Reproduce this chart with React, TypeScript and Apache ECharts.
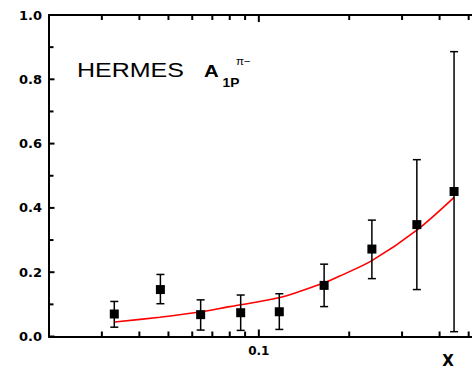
import React, { useEffect, useRef } from "react";
import * as echarts from "echarts";

const xValues = [0.033, 0.047, 0.064, 0.087, 0.117, 0.165, 0.238, 0.336, 0.447];
const yValues = [0.07, 0.146, 0.068, 0.074, 0.077, 0.159, 0.272, 0.348, 0.451];
const yLow = [0.029, 0.102, 0.02, 0.019, 0.022, 0.093, 0.18, 0.146, 0.015];
const yHigh = [0.109, 0.193, 0.114, 0.129, 0.133, 0.225, 0.362, 0.55, 0.886];

const curveX = [0.0331, 0.0468, 0.0636, 0.08, 0.1175, 0.165, 0.186, 0.238, 0.336, 0.447];
const curveY = [0.045, 0.06, 0.076, 0.093, 0.121, 0.167, 0.188, 0.236, 0.331, 0.433];

const xMinorTicks = [0.03, 0.04, 0.05, 0.06, 0.07, 0.08, 0.09, 0.2, 0.3, 0.4, 0.5];
const xMajorTicks = [0.1];
const xTickLabels = ["0.1"];
const yMajorTicks = [0, 0.2, 0.4, 0.6, 0.8, 1.0];
const yMinorTicks = [0.1, 0.3, 0.5, 0.7, 0.9];

const X_MIN = 0.02;
const X_MAX = 0.55;
const Y_MIN = 0;
const Y_MAX = 1;

export default function App() {
  const ref = useRef<HTMLDivElement>(null);

  useEffect(() => {
    if (!ref.current) return;
    const chart = echarts.init(ref.current, null, { renderer: "svg" });

    const tickScatter = (data: number[][], size: number[], offset: number[]) => ({
      type: "scatter",
      data,
      symbol: "rect",
      symbolSize: size,
      symbolOffset: offset,
      clip: false,
      silent: true,
      itemStyle: { color: "#000", opacity: 1 },
      z: 6,
    });

    const option: any = {
      animation: false,
      backgroundColor: "#ffffff",
      grid: {
        left: 49,
        top: 15,
        bottom: 36.5,
        right: -9.1,
        containLabel: false,
        outerBoundsMode: "none",
      },
      xAxis: [
        {
          type: "log",
          logBase: 10,
          min: X_MIN,
          max: X_MAX,
          position: "bottom",
          axisLine: { show: true, onZero: false, lineStyle: { color: "#000", width: 2 } },
          axisTick: { show: false },
          minorTick: { show: false },
          splitLine: { show: false },
          axisLabel: {
            show: true,
            showMinLabel: false,
            showMaxLabel: false,
            margin: 8,
            color: "#000",
            fontFamily: "DejaVu Sans",
            fontWeight: "bold",
            fontSize: 12,
            formatter: (v: number) => {
              const i = xMajorTicks.findIndex((t) => Math.abs(t - v) < 1e-6);
              return i >= 0 ? xTickLabels[i] : "";
            },
          },
          name: "X",
          nameLocation: "end",
          nameGap: 0,
          nameTextStyle: {
            color: "#000",
            fontFamily: "DejaVu Sans",
            fontWeight: "bold",
            fontSize: 15,
            align: "center",
            verticalAlign: "top",
            padding: [17, 0, 0, -66],
          },
        },
        {
          type: "log",
          logBase: 10,
          min: X_MIN,
          max: X_MAX,
          position: "top",
          axisLine: { show: true, onZero: false, lineStyle: { color: "#000", width: 2 } },
          axisTick: { show: false },
          axisLabel: { show: false },
          splitLine: { show: false },
        },
      ],
      yAxis: {
        type: "value",
        min: Y_MIN,
        max: Y_MAX,
        interval: 0.2,
        axisLine: { show: true, onZero: false, lineStyle: { color: "#000", width: 2 } },
        axisTick: { show: false },
        minorTick: { show: false },
        splitLine: { show: false },
        axisLabel: {
          margin: 7,
          color: "#000",
          fontFamily: "DejaVu Sans",
          fontWeight: "bold",
          fontSize: 13,
          formatter: (v: number) => v.toFixed(1),
        },
      },
      series: [
        tickScatter(xMinorTicks.map((v) => [v, Y_MIN]), [2, 5], [0, -2.5]),
        tickScatter(xMinorTicks.map((v) => [v, Y_MAX]), [2, 5], [0, 2.5]),
        tickScatter(xMajorTicks.map((v) => [v, Y_MIN]), [2, 7], [0, -3.5]),
        tickScatter(xMajorTicks.map((v) => [v, Y_MAX]), [2, 7], [0, 3.5]),
        tickScatter(yMinorTicks.map((v) => [X_MIN, v]), [4.5, 2], [2.25, 0]),
        tickScatter(yMajorTicks.map((v) => [X_MIN, v]), [5.5, 2], [2.75, 0]),
        {
          type: "line",
          name: "fit",
          data: curveX.map((x, i) => [x, curveY[i]]),
          smooth: 0.3,
          showSymbol: false,
          symbol: "none",
          lineStyle: { color: "#ff0000", width: 1.6 },
          z: 3,
        },
        {
          type: "custom",
          name: "errors",
          clip: false,
          data: xValues.map((x, i) => [x, yLow[i], yHigh[i]]),
          renderItem: (params: any, api: any) => {
            const x = api.value(0);
            const lo = api.coord([x, api.value(1)]);
            const hi = api.coord([x, api.value(2)]);
            const cap = 4;
            const st = { stroke: "#000", lineWidth: 1.5 };
            return {
              type: "group",
              children: [
                { type: "line", shape: { x1: lo[0], y1: lo[1], x2: hi[0], y2: hi[1] }, style: st },
                { type: "line", shape: { x1: lo[0] - cap, y1: lo[1], x2: lo[0] + cap, y2: lo[1] }, style: st },
                { type: "line", shape: { x1: hi[0] - cap, y1: hi[1], x2: hi[0] + cap, y2: hi[1] }, style: st },
              ],
            };
          },
          z: 4,
        },
        {
          type: "scatter",
          name: "HERMES",
          data: xValues.map((x, i) => [x, yValues[i]]),
          symbol: "rect",
          symbolSize: 9,
          itemStyle: { color: "#000", opacity: 1 },
          z: 5,
        },
      ],
      graphic: [
        {
          type: "text",
          x: 77,
          y: 70,
          scaleX: 1.22,
          style: { text: "HERMES", fontFamily: "Liberation Sans", fontSize: 20.5, fill: "#000", verticalAlign: "middle" },
        },
        {
          type: "text",
          x: 204,
          y: 71.5,
          scaleX: 1.2,
          style: { text: "A", fontFamily: "Liberation Sans", fontWeight: "bold", fontSize: 17, fill: "#000", verticalAlign: "middle" },
        },
        {
          type: "text",
          x: 222.5,
          y: 82.5,
          scaleX: 1.15,
          style: { text: "1P", fontFamily: "Liberation Sans", fontWeight: "bold", fontSize: 12, fill: "#000", verticalAlign: "middle" },
        },
        {
          type: "text",
          x: 236,
          y: 61,
          scaleX: 1.15,
          style: { text: "π−", fontFamily: "Liberation Sans", fontSize: 10, fill: "#000", verticalAlign: "middle" },
        },
      ],
    };

    chart.setOption(option);
    return () => chart.dispose();
  }, []);

  return (
    <div
      ref={ref}
      style={{ position: "fixed", left: 0, top: 0, width: 472, height: 373, background: "#fff" }}
    />
  );
}
